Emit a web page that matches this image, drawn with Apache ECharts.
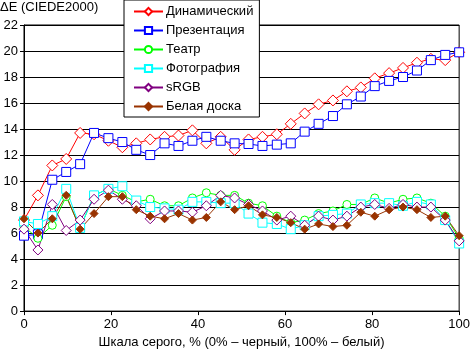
<!DOCTYPE html>
<html lang="ru">
<head>
    <meta charset="UTF-8">
    <title>ΔE (CIEDE2000)</title>
    <script src="https://cdn.jsdelivr.net/npm/echarts@6.0.0/dist/echarts.min.js"></script>
    <style>
        html, body { margin: 0; padding: 0; background: #fff; }
        #chart { width: 473px; height: 354px; }
    </style>
</head>
<body>
<div id="chart"></div>
<script>
  // уровни серого, %
  var GRAY = [0, 3.2, 6.5, 9.7, 12.9, 16.1, 19.4, 22.6, 25.8, 29.0, 32.3, 35.5, 38.7, 41.9, 45.2, 48.4,
    51.6, 54.8, 58.1, 61.3, 64.5, 67.7, 71.0, 74.2, 77.4, 80.6, 83.9, 87.1, 90.3, 93.5, 96.8, 100];

  var DYN = [7.0, 8.9, 11.2, 11.7, 13.7, 13.6, 13.1, 12.6, 12.9, 13.2, 13.4, 13.5, 13.9, 12.9, 13.4, 12.4,
    13.2, 13.4, 13.6, 14.4, 15.2, 15.9, 16.2, 16.9, 17.2, 17.9, 18.3, 18.7, 19.1, 19.4, 19.3, 19.9];
  var PRES = [5.8, 5.9, 10.1, 10.7, 11.3, 13.7, 13.3, 13.0, 12.4, 12.0, 12.9, 12.7, 13.1, 13.4, 13.1, 12.9,
    12.85, 12.7, 12.8, 12.9, 13.8, 14.4, 15.0, 15.9, 16.5, 17.3, 17.7, 18.0, 18.5, 19.3, 19.7, 19.9];
  var THEATRE = [6.5, 5.6, 6.6, 8.8, 6.4, 8.9, 9.4, 8.9, 8.4, 8.6, 8.1, 8.1, 8.7, 9.1, 8.9, 8.9,
    8.3, 8.1, 7.3, 6.8, 7.0, 7.5, 7.7, 8.2, 8.2, 8.7, 8.3, 8.6, 8.7, 8.3, 7.3, 5.6];
  var PHOTO = [6.9, 6.7, 7.3, 9.4, 6.4, 8.9, 9.4, 9.6, 8.5, 8.0, 7.9, 7.8, 8.4, 8.4, 8.3, 8.3,
    7.5, 6.8, 6.7, 6.3, 6.6, 7.3, 7.4, 7.5, 8.2, 8.3, 8.3, 8.1, 8.4, 8.2, 7.0, 5.2];
  var SRGB = [6.3, 4.7, 8.2, 6.2, 7.0, 8.6, 9.3, 8.6, 8.1, 7.1, 7.7, 7.7, 7.6, 8.1, 8.9, 8.7,
    8.2, 7.7, 7.0, 7.3, 6.6, 7.3, 7.0, 7.3, 8.0, 8.2, 7.9, 8.2, 8.0, 8.0, 7.0, 5.4];
  var BOARD = [7.1, 6.0, 7.1, 8.9, 6.3, 7.5, 8.8, 8.8, 7.8, 7.3, 7.1, 7.5, 7.0, 7.2, 8.4, 7.8,
    8.1, 7.4, 7.2, 6.8, 6.3, 6.7, 6.5, 6.6, 7.6, 7.3, 7.8, 8.0, 7.8, 7.2, 7.3, 5.8];

  var FONT = '"Liberation Sans", Arial, sans-serif';

  function pairs(vals) {
    return vals.map(function (v, i) { return [GRAY[i], v]; });
  }

  function line(name, vals, color, symbol, size, filled) {
    return {
      name: name,
      type: 'line',
      data: pairs(vals),
      symbol: symbol,
      symbolSize: size,
      showSymbol: true,
      animation: false,
      lineStyle: { color: color, width: 1 },
      itemStyle: { color: filled ? color : '#fff', borderColor: color, borderWidth: 1 },
      emphasis: { disabled: true }
    };
  }

  var myChart = echarts.init(document.getElementById('chart'));

  myChart.setOption({
    animation: false,
    title: {
      text: 'ΔE (CIEDE2000)',
      left: -5,
      top: -4,
      textStyle: { fontFamily: FONT, fontSize: 13, fontWeight: 'normal', color: '#000' }
    },
    legend: {
      orient: 'vertical',
      left: 124,
      top: 0,
      backgroundColor: '#fff',
      borderColor: '#000',
      borderWidth: 1,
      borderRadius: 0,
      padding: [5, 6, 4, 9],
      itemWidth: 29,
      itemHeight: 9,
      itemGap: 6,
      textStyle: { fontFamily: FONT, fontSize: 13, color: '#000', lineHeight: 13, padding: [0, 0, 0, -2] },
      data: ['Динамический', 'Презентация', 'Театр', 'Фотография', 'sRGB', 'Белая доска']
    },
    grid: {
      left: 24,
      right: 10,
      top: 25,
      bottom: 42,
      show: true,
      borderColor: '#000',
      borderWidth: 1
    },
    xAxis: {
      type: 'value',
      min: 0,
      max: 100,
      interval: 20,
      name: 'Шкала серого, % (0% – черный, 100% – белый)',
      nameLocation: 'middle',
      nameGap: 17,
      nameTextStyle: { fontFamily: FONT, fontSize: 13, color: '#000', verticalAlign: 'top' },
      axisLine: { lineStyle: { color: '#000', width: 1 } },
      axisTick: { show: true, length: 4, lineStyle: { color: '#000' } },
      axisLabel: { fontFamily: FONT, fontSize: 13, color: '#000', margin: 7 },
      splitLine: { show: false }
    },
    yAxis: {
      type: 'value',
      min: 0,
      max: 22,
      interval: 2,
      axisLine: { show: true, lineStyle: { color: '#000', width: 1 } },
      axisTick: { show: true, length: 4, lineStyle: { color: '#000' } },
      axisLabel: { fontFamily: FONT, fontSize: 13, color: '#000', margin: 6 },
      splitLine: { show: true, lineStyle: { color: '#000', width: 1 } }
    },
    series: [
      line('Динамический', DYN, '#ff0000', 'diamond', 11, false),
      line('Презентация', PRES, '#0000ff', 'rect', 9, false),
      line('Театр', THEATRE, '#00ff00', 'circle', 8, false),
      line('Фотография', PHOTO, '#00ffff', 'rect', 9, false),
      line('sRGB', SRGB, '#800080', 'diamond', 10, false),
      line('Белая доска', BOARD, '#993300', 'diamond', 8, true)
    ]
  });
</script>
</body>
</html>
